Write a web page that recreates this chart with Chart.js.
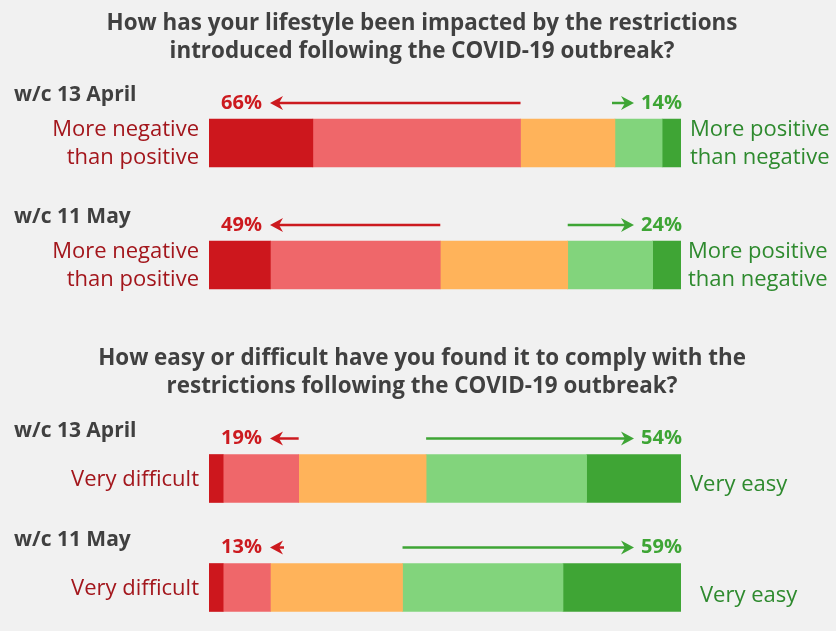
<!DOCTYPE html>
<html>
<head>
<meta charset="utf-8">
<script src="https://cdn.jsdelivr.net/npm/chart.js@4/dist/chart.umd.min.js"></script>
<style>
  body { margin: 0; background: #f1f1f1; }
  #wrap { position: relative; width: 836px; height: 631px; overflow: hidden; background: #f1f1f1; }
  canvas { position: absolute; left: 0; }
</style>
</head>
<body>
<div id="wrap">
  <canvas id="chartLifestyle" width="836" height="340" style="top:0"></canvas>
  <canvas id="chartComply" width="836" height="340" style="top:315px"></canvas>
</div>
<script>
// data (percent of respondents)
var weeks = ['w/c 13 April', 'w/c 11 May'];
var segmentNames = ['Very negative / difficult', 'Fairly negative / difficult', 'Neither', 'Fairly positive / easy', 'Very positive / easy'];
var segmentColors = ['#cd171d', '#ef676a', '#ffb35a', '#82d47c', '#3fa535'];

var lifestyleTitle = ['How has your lifestyle been impacted by the restrictions', 'introduced following the COVID-19 outbreak?'];
var lifestyleApril = [22, 44, 20, 10, 4];
var lifestyleMay = [13, 36, 27, 18, 6];
var lifestyleNegative = [66, 49];
var lifestylePositive = [14, 24];
var lifestyleLeft = ['More negative', 'than positive'];
var lifestyleRight = ['More positive', 'than negative'];

var complyTitle = ['How easy or difficult have you found it to comply with the', 'restrictions following the COVID-19 outbreak?'];
var complyApril = [3, 16, 27, 34, 20];
var complyMay = [3, 10, 28, 34, 25];
var complyDifficult = [19, 13];
var complyEasy = [54, 59];
var complyLeft = ['Very difficult'];
var complyRight = ['Very easy'];

var FONT = "'Open Sans', sans-serif";
var RED = '#cc1a1f';
var GREEN = '#3ea535';

function arrowHead(ctx, x, y, dir) {
    // dir -1 = pointing left, 1 = pointing right
    ctx.beginPath();
    ctx.moveTo(x, y);
    ctx.lineTo(x - dir * 13, y - 7);
    ctx.lineTo(x - dir * 9, y);
    ctx.lineTo(x - dir * 13, y + 7);
    ctx.closePath();
    ctx.fill();
}

var annotations = {
    id: 'annotations',
    afterDatasetsDraw: function(chart, args, opts) {
        var ctx = chart.ctx;
        var xs = chart.scales.x;
        var meta = chart.getDatasetMeta(0);
        ctx.save();

        // title
        ctx.fillStyle = '#404040';
        ctx.font = 'bold 22.4px ' + FONT;
        ctx.textAlign = 'center';
        ctx.textBaseline = 'alphabetic';
        opts.title.forEach(function(line, k) {
            ctx.fillText(line, 422, opts.titleY + k * 28);
        });

        meta.data.forEach(function(bar, i) {
            var top = bar.y - bar.height / 2;

            // row label
            ctx.fillStyle = '#404040';
            ctx.font = 'bold 21px ' + FONT;
            ctx.textAlign = 'left';
            ctx.fillText(weeks[i], 14, top - 18);

            // negative share + arrow
            var ay = top - 16;
            ctx.fillStyle = RED;
            ctx.strokeStyle = RED;
            ctx.lineWidth = 2.5;
            ctx.font = 'bold 20px ' + FONT;
            ctx.textAlign = 'right';
            ctx.textBaseline = 'middle';
            ctx.fillText(opts.neg[i] + '%', xs.left + 53, ay);
            var tip = xs.left + 61;
            var tail = Math.max(xs.getPixelForValue(opts.neg[i]), tip + 14);
            ctx.beginPath();
            ctx.moveTo(tail, ay);
            ctx.lineTo(tip + 8, ay);
            ctx.stroke();
            arrowHead(ctx, tip, ay, -1);

            // positive share + arrow
            ctx.fillStyle = GREEN;
            ctx.strokeStyle = GREEN;
            ctx.fillText(opts.pos[i] + '%', xs.right + 1, ay);
            var gtip = xs.right - 47;
            var gtail = Math.min(xs.getPixelForValue(100 - opts.pos[i]), gtip - 22);
            ctx.beginPath();
            ctx.moveTo(gtail, ay);
            ctx.lineTo(gtip - 8, ay);
            ctx.stroke();
            arrowHead(ctx, gtip, ay, 1);

            // side labels
            ctx.font = '22px ' + FONT;
            var n = opts.left.length;
            ctx.fillStyle = '#a3161c';
            ctx.textAlign = 'right';
            opts.left.forEach(function(line, k) {
                ctx.fillText(line, xs.left - 10, bar.y + 1 + (k - (n - 1) / 2) * 28);
            });
            ctx.fillStyle = '#2e8a2e';
            ctx.textAlign = 'left';
            opts.right.forEach(function(line, k) {
                ctx.fillText(line, xs.right + 9 + opts.rightShift[i][0], bar.y + 1 + opts.rightShift[i][1] + (k - (n - 1) / 2) * 28);
            });
            ctx.textBaseline = 'alphabetic';
        });
        ctx.restore();
    }
};

function makeChart(id, april, may, padTop, padBottom, extra) {
    var datasets = segmentNames.map(function(name, s) {
        return {
            label: name,
            data: [april[s], may[s]],
            backgroundColor: segmentColors[s],
            borderWidth: 0,
            barThickness: 48
        };
    });
    return new Chart(document.getElementById(id), {
        type: 'bar',
        data: { labels: weeks, datasets: datasets },
        options: {
            indexAxis: 'y',
            responsive: false,
            animation: false,
            layout: { padding: { left: 209, right: 155, top: padTop, bottom: padBottom } },
            scales: {
                x: { stacked: true, min: 0, max: 100, display: false },
                y: { stacked: true, display: false }
            },
            plugins: {
                legend: { display: false },
                tooltip: { enabled: false },
                annotations: extra
            }
        },
        plugins: [annotations]
    });
}

makeChart('chartLifestyle', lifestyleApril, lifestyleMay, 82, 14, {
    title: lifestyleTitle, titleY: 30,
    neg: lifestyleNegative, pos: lifestylePositive,
    left: lifestyleLeft, right: lifestyleRight,
    rightShift: [[0, 0], [-2, 0]]
});

makeChart('chartComply', complyApril, complyMay, 109, 13, {
    title: complyTitle, titleY: 50,
    neg: complyDifficult, pos: complyEasy,
    left: complyLeft, right: complyRight,
    rightShift: [[0, 5], [10, 7]]
});
</script>
</body>
</html>
